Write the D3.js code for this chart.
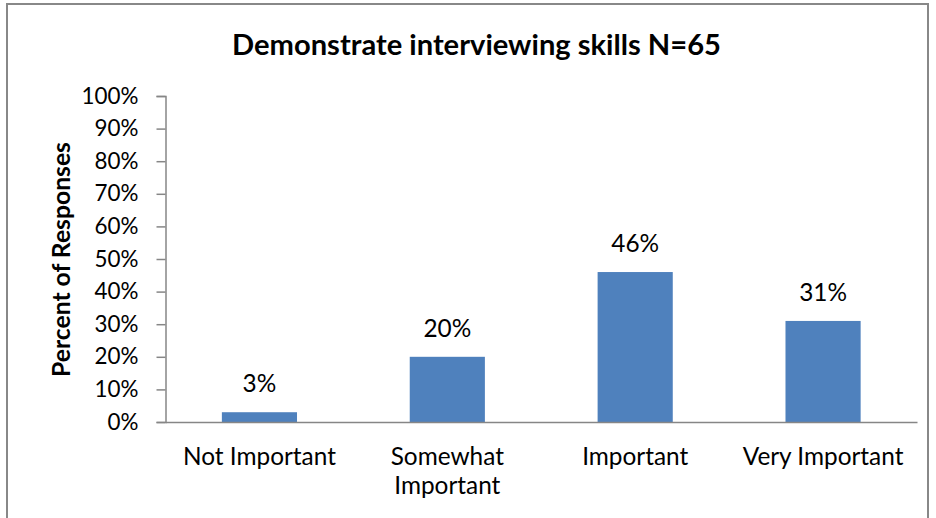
<!DOCTYPE html>
<html>
<head>
<meta charset="utf-8">
<script src="https://cdn.jsdelivr.net/npm/d3@7"></script>
<style>
  html, body { margin: 0; padding: 0; background: #fff; }
  svg { display: block; }
  text { font-family: Lato, "Open Sans", sans-serif; fill: #000; }
</style>
</head>
<body>
<svg id="chart" width="936" height="518"></svg>
<script>
// Survey responses for "Demonstrate interviewing skills"
const categories = ["Not Important", "Somewhat Important", "Important", "Very Important"];
const categoryLines = [["Not Important"], ["Somewhat", "Important"], ["Important"], ["Very Important"]];
const percentages = [3, 20, 46, 31];
const yTicks = [0, 10, 20, 30, 40, 50, 60, 70, 80, 90, 100];
const chartTitle = "Demonstrate interviewing skills N=65";
const yAxisTitle = "Percent of Responses";

const svg = d3.select("#chart");
const W = 936, H = 518;
const plot = { left: 165.5, right: 917, top: 96, bottom: 422 };
const axisColor = "#868686";
const barColor = "#4F81BD";

// Chart frame
svg.append("rect")
  .attr("x", 7).attr("y", 4)
  .attr("width", 921).attr("height", 530)
  .attr("fill", "none").attr("stroke", "#888").attr("stroke-width", 2);

const x = d3.scaleBand().domain(categories).range([plot.left, plot.right]).paddingInner(0.6).paddingOuter(0.3);
const y = d3.scaleLinear().domain([0, 100]).range([plot.bottom, plot.top]);

// Scale a text element's font size so it spans a given width
function fitSize(sel, width) {
  const node = sel.node();
  const base = 20;
  sel.style("font-size", base + "px");
  const w = node.getComputedTextLength();
  return base * width / w;
}

// Measure sizes
const probe = svg.append("text").text("100%");
const tickSize = fitSize(probe, 57);
probe.text("Not Important");
const catSize = fitSize(probe, 153);
probe.style("font-weight", "bold").text(chartTitle);
const titleSize = fitSize(probe, 489);
probe.text(yAxisTitle);
const yTitleSize = fitSize(probe, 235);
probe.remove();

// Title
svg.append("text")
  .attr("x", 476.5).attr("y", 55)
  .attr("text-anchor", "middle")
  .style("font-weight", "bold").style("font-size", titleSize + "px")
  .text(chartTitle);

// Y axis
const yAxis = d3.axisLeft(y).tickValues(yTicks).tickSize(9).tickPadding(18)
  .tickFormat(d => d + "%");
const gy = svg.append("g").attr("transform", `translate(${plot.left},0)`).call(yAxis);
gy.select(".domain").attr("stroke", axisColor).attr("stroke-width", 1.5);
gy.selectAll(".tick line").attr("stroke", axisColor).attr("stroke-width", 1.5);
gy.selectAll(".tick text").style("font-size", tickSize + "px").style("font-family", null).attr("fill", "#000");

// Bars
svg.selectAll("rect.bar").data(percentages).join("rect")
  .attr("class", "bar")
  .attr("x", (d, i) => x(categories[i]))
  .attr("width", x.bandwidth())
  .attr("y", d => y(d))
  .attr("height", d => y(0) - y(d))
  .attr("fill", barColor);

// X axis baseline
const xAxis = d3.axisBottom(x).tickSize(0).tickFormat("");
const gx = svg.append("g").attr("transform", `translate(0,${plot.bottom})`).call(xAxis);
gx.select(".domain").attr("stroke", axisColor).attr("stroke-width", 1.5);

// Category labels
categories.forEach((c, i) => {
  const t = svg.append("text")
    .attr("x", x(c) + x.bandwidth() / 2)
    .attr("y", 465)
    .attr("text-anchor", "middle")
    .style("font-size", catSize + "px");
  categoryLines[i].forEach((line, j) => {
    t.append("tspan").attr("x", x(c) + x.bandwidth() / 2).attr("dy", j === 0 ? 0 : 29).text(line);
  });
});

// Value labels
svg.selectAll("text.value").data(percentages).join("text")
  .attr("class", "value")
  .attr("x", (d, i) => x(categories[i]) + x.bandwidth() / 2)
  .attr("y", d => y(d) - 20)
  .attr("text-anchor", "middle")
  .style("font-size", catSize + "px")
  .text(d => d + "%");

// Y axis title
svg.append("text")
  .attr("transform", "translate(70,259.5) rotate(-90)")
  .attr("text-anchor", "middle")
  .style("font-weight", "bold").style("font-size", yTitleSize + "px")
  .text(yAxisTitle);
</script>
</body>
</html>
